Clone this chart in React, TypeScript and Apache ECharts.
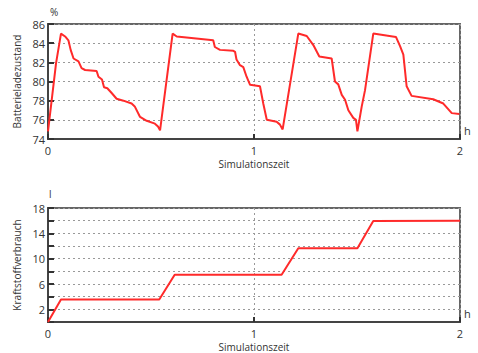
import React, { useEffect, useRef } from "react";
import * as echarts from "echarts";

const socTime = [0, 0.039, 0.063, 0.083, 0.099, 0.11, 0.124, 0.148, 0.163, 0.18, 0.236, 0.245, 0.262, 0.272, 0.288, 0.309, 0.333, 0.366, 0.406, 0.421, 0.447, 0.479, 0.519, 0.534, 0.544, 0.605, 0.625, 0.802, 0.81, 0.835, 0.9, 0.908, 0.915, 0.932, 0.948, 0.964, 0.981, 1.029, 1.045, 1.062, 1.11, 1.126, 1.139, 1.215, 1.256, 1.288, 1.317, 1.377, 1.393, 1.409, 1.426, 1.442, 1.458, 1.482, 1.495, 1.502, 1.523, 1.539, 1.579, 1.689, 1.709, 1.725, 1.741, 1.765, 1.87, 1.919, 1.96, 1.997];
const socValue = [74.8, 81.9, 85.0, 84.7, 84.3, 83.3, 82.4, 82.1, 81.4, 81.2, 81.1, 80.5, 80.2, 79.4, 79.3, 78.8, 78.2, 78.0, 77.7, 77.4, 76.3, 75.9, 75.6, 75.3, 74.9, 85.0, 84.7, 84.3, 83.6, 83.3, 83.2, 83.1, 82.3, 81.7, 81.5, 80.5, 79.65, 79.5, 77.7, 76.0, 75.8, 75.5, 75.0, 85.0, 84.75, 83.8, 82.6, 82.4, 80.0, 79.7, 78.6, 78.1, 77.0, 76.2, 76.0, 74.8, 77.4, 79.1, 85.0, 84.65, 83.7, 82.8, 79.5, 78.5, 78.15, 77.7, 76.7, 76.6];

const fuelTime = [0, 0.063, 0.54, 0.615, 1.134, 1.215, 1.502, 1.579, 2];
const fuelValue = [0, 3.55, 3.55, 7.46, 7.46, 11.64, 11.64, 15.96, 16];

const xTicks = [0, 1, 2];
const socTicks = [74, 76, 78, 80, 82, 84, 86];
const fuelTicks = [2, 6, 10, 14, 18];

const FONT = "Open Sans";
const TXT = "#333";

export default function App() {
  const ref = useRef<HTMLDivElement>(null);
  useEffect(() => {
    if (!ref.current) return;
    const chart = echarts.init(ref.current, undefined, { renderer: "svg" });
    const socData = socTime.map((t, i) => [t, socValue[i]]);
    const fuelData = fuelTime.map((t, i) => [t, fuelValue[i]]);
    const xAxisBase = (gridIndex: number) => ({
      type: "value",
      gridIndex,
      min: xTicks[0],
      max: xTicks[xTicks.length - 1],
      interval: 1,
      name: "Simulationszeit",
      nameLocation: "middle",
      nameGap: 20,
      nameTextStyle: { fontFamily: FONT, fontSize: 10, color: TXT },
      axisLine: { show: true, onZero: false, lineStyle: { color: "#444", width: 2 } },
      axisTick: { show: true, inside: true, length: 5, lineStyle: { color: "#333", width: 2 } },
      axisLabel: { fontFamily: FONT, fontSize: 11, color: TXT, margin: 6 },
      splitLine: { show: true, lineStyle: { color: "#999", type: [2, 3], width: 1 } },
    });
    const gridLine = { show: true, lineStyle: { color: "#999", type: [2, 3], width: 1 } };
    chart.setOption({
      animation: false,
      backgroundColor: "#fff",
      grid: [
        { left: 48, top: 24, width: 412, height: 115, show: true, borderColor: "#666", borderWidth: 2, backgroundColor: "transparent" },
        { left: 48, top: 208, width: 412, height: 115, show: true, borderColor: "#666", borderWidth: 2, backgroundColor: "transparent" },
      ],
      xAxis: [xAxisBase(0), xAxisBase(1)],
      yAxis: [
        {
          type: "value",
          gridIndex: 0,
          min: socTicks[0],
          max: socTicks[socTicks.length - 1],
          interval: 2,
          name: "Batterieladezustand",
          nameLocation: "middle",
          nameGap: 17,
          nameTextStyle: { fontFamily: FONT, fontSize: 10, color: TXT },
          axisLine: { show: true, lineStyle: { color: "#444", width: 2 } },
          axisTick: { show: true, inside: true, length: 6, lineStyle: { color: "#333", width: 2 } },
          axisLabel: { fontFamily: FONT, fontSize: 11, color: TXT, margin: 3 },
          splitLine: gridLine,
        },
        {
          type: "value",
          gridIndex: 1,
          min: 0,
          max: fuelTicks[fuelTicks.length - 1],
          interval: 2,
          name: "Kraftstoffverbrauch",
          nameLocation: "middle",
          nameGap: 17,
          nameTextStyle: { fontFamily: FONT, fontSize: 10, color: TXT },
          axisLine: { show: true, lineStyle: { color: "#444", width: 2 } },
          axisTick: { show: true, inside: true, length: 6, lineStyle: { color: "#333", width: 2 } },
          axisLabel: {
            fontFamily: FONT,
            fontSize: 11,
            color: TXT,
            margin: 3,
            formatter: (v: number) => (fuelTicks.includes(v) ? String(v) : ""),
          },
          splitLine: gridLine,
        },
      ],
      graphic: [
        { type: "text", left: 50, top: 7, style: { text: "%", fontFamily: FONT, fontSize: 10, fill: TXT } },
        { type: "text", left: 464, top: 125, style: { text: "h", fontFamily: FONT, fontSize: 11, fill: TXT } },
        { type: "text", left: 49, top: 189, style: { text: "l", fontFamily: FONT, fontSize: 10, fill: TXT } },
        { type: "text", left: 464, top: 308, style: { text: "h", fontFamily: FONT, fontSize: 11, fill: TXT } },
      ],
      series: [
        {
          type: "line",
          xAxisIndex: 0,
          yAxisIndex: 0,
          data: socData,
          showSymbol: false,
          lineStyle: { color: "#ff2a2a", width: 2 },
          itemStyle: { color: "#ff2a2a" },
        },
        {
          type: "line",
          xAxisIndex: 1,
          yAxisIndex: 1,
          data: fuelData,
          showSymbol: false,
          lineStyle: { color: "#ff2a2a", width: 2 },
          itemStyle: { color: "#ff2a2a" },
        },
      ],
    });
    return () => chart.dispose();
  }, []);
  return (
    <div
      ref={ref}
      style={{ position: "fixed", left: 0, top: 0, width: 478, height: 353 }}
    />
  );
}
